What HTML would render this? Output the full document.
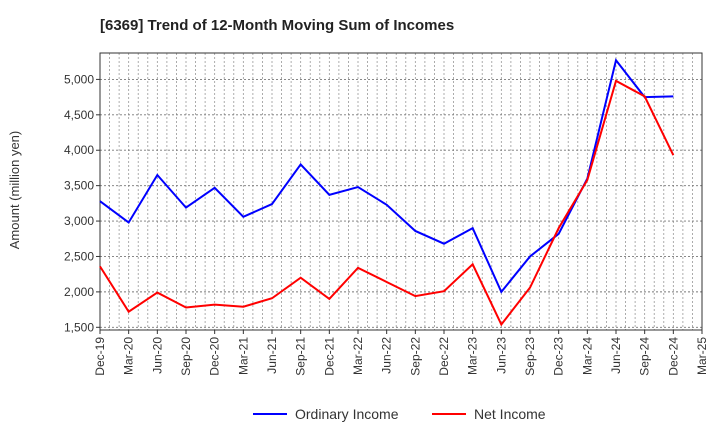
<!DOCTYPE html>
<html><head><meta charset="utf-8"><style>
body{margin:0;background:#fff;font-family:"Liberation Sans",sans-serif}
</style></head><body>
<svg id="c" width="720" height="440" xmlns="http://www.w3.org/2000/svg">
<text x="100" y="30" font-size="15" font-weight="bold" fill="#222">[6369]  Trend of 12-Month Moving Sum of Incomes</text>
<text transform="translate(19,190) rotate(-90)" text-anchor="middle" font-size="13" fill="#333">Amount (million yen)</text>
<g id="grid"></g><g id="axes"></g><g id="series"></g>
<g>
<line x1="253" y1="414" x2="287" y2="414" stroke="#0000ff" stroke-width="2"/>
<text x="295" y="419" font-size="14" fill="#333">Ordinary Income</text>
<line x1="432" y1="414" x2="466" y2="414" stroke="#ff0000" stroke-width="2"/>
<text x="474" y="419" font-size="14" fill="#333">Net Income</text>
</g>
</svg>
<script>
const categories=["Dec-19","Mar-20","Jun-20","Sep-20","Dec-20","Mar-21","Jun-21","Sep-21","Dec-21","Mar-22","Jun-22","Sep-22","Dec-22","Mar-23","Jun-23","Sep-23","Dec-23","Mar-24","Jun-24","Sep-24","Dec-24","Mar-25"];
const ordinaryIncome=[3280,2980,3650,3190,3470,3060,3240,3800,3370,3480,3230,2860,2680,2900,2000,2500,2820,3600,5270,4750,4760];
const netIncome=[2360,1720,1990,1780,1820,1790,1910,2200,1900,2340,2140,1940,2010,2390,1540,2060,2900,3580,4980,4760,3930];
const yTicks=[1500,2000,2500,3000,3500,4000,4500,5000];
const NS="http://www.w3.org/2000/svg";
const L=100,R=702,T=53,B=330;
const x=i=>L+(R-L)*i/(categories.length-1);
const y=v=>327.3-(v-1500)*(247.9/3500);
function mk(t,a,p){const e=document.createElementNS(NS,t);for(const k in a)e.setAttribute(k,a[k]);p.appendChild(e);return e;}
const g=document.getElementById('grid'),ax=document.getElementById('axes'),s=document.getElementById('series');
for(let m=0;m<=63;m++){const xx=L+(R-L)*m/63;const l=mk('line',{x1:xx,x2:xx,y1:T,y2:B,stroke:'#999','stroke-dasharray':'2,2','stroke-width':0.8},g);

}
yTicks.forEach(v=>{const l=mk('line',{x1:L,x2:R,y1:y(v),y2:y(v),stroke:'#777','stroke-dasharray':'2,2','stroke-width':0.9},g);


const t=mk('text',{x:L-6,y:y(v)+4,'text-anchor':'end','font-size':12,fill:'#333'},ax);t.textContent=v.toLocaleString('en-US');


mk('line',{x1:L-4,x2:L,y1:y(v),y2:y(v),stroke:'#333'},ax);});
const f=mk('rect',{x:L,y:T,width:R-L,height:B-T,fill:'none',stroke:'#333','stroke-width':1},ax);


categories.forEach((c,i)=>{mk('line',{x1:x(i),x2:x(i),y1:B,y2:B+4,stroke:'#333'},ax);
const t=mk('text',{transform:`translate(${x(i)+4},${B+7}) rotate(-90)`,'text-anchor':'end','font-size':12,fill:'#333'},ax);t.textContent=c;

});
function line(d,col,name){const p=mk('polyline',{points:d.map((v,i)=>x(i)+','+y(v)).join(' '),fill:'none',stroke:col,'stroke-width':2},s);

}
line(ordinaryIncome,'#0000ff','ordinary-income-line');
line(netIncome,'#ff0000','net-income-line');
</script>
</body></html>
